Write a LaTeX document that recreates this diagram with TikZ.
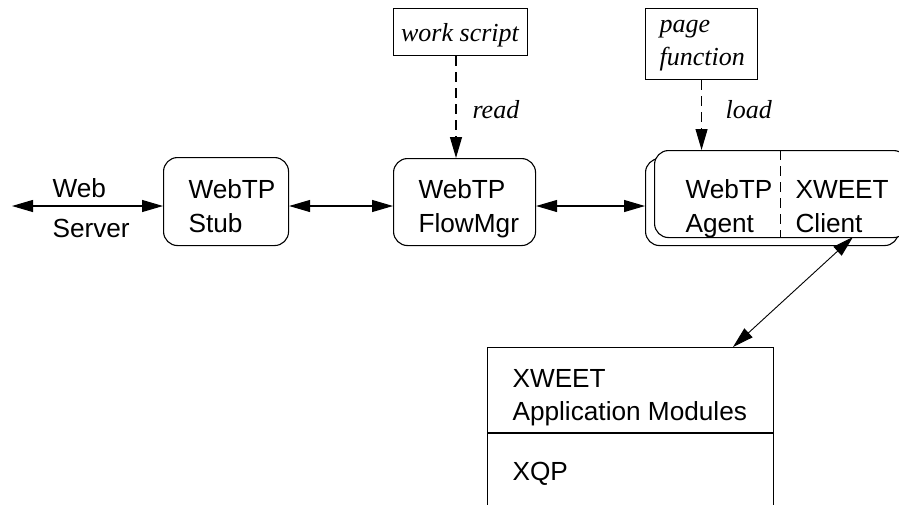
\documentclass[tikz,border=0pt]{standalone}
\usepackage{fontspec}
\setmainfont{Liberation Sans}
\newfontfamily\serifit{Liberation Serif}[ItalicFont=* Italic]
\usetikzlibrary{arrows.meta}
\begin{document}
\begin{tikzpicture}[x=1pt,y=-1pt,line width=1.1pt,
  tri/.tip={Triangle[length=21pt,width=12pt]},
  rbox/.style={draw,rounded corners=14pt,inner sep=0pt,anchor=north west,fill=white},
  sbox/.style={draw,inner sep=0pt,anchor=north west},
  txt/.style={anchor=base west,inner sep=0pt,font=\fontsize{26.2}{30}\selectfont},
  itxt/.style={inner sep=0pt,font=\serifit\itshape\fontsize{26}{33}\selectfont},
  dashline/.style={dash pattern=on 10pt off 6pt},
  dbl/.style={tri-tri}]
\useasboundingbox (0,0) rectangle (899,504);
\clip (0,0) rectangle (899,504);

% boxes
\node[rbox,minimum width=125pt,minimum height=88pt] (stub) at (163,157) {};
\node[rbox,minimum width=142pt,minimum height=87pt] (flow) at (393,158) {};
\node[rbox,minimum width=253pt,minimum height=87pt] (back) at (645,158) {};
\node[rbox,minimum width=253pt,minimum height=87pt] (agent) at (654,150) {};
\node[sbox,minimum width=134pt,minimum height=47pt] (work) at (393,8) {};
\node[sbox,minimum width=112pt,minimum height=71pt] (page) at (645,8) {};
\node[sbox,minimum width=286pt,minimum height=175pt] (mods) at (487,347) {};

% texts
\node[txt] (webl) at (52,197) {Web};
\node[txt] (serverl) at (52,237) {Server};
\node[txt] (stub1) at (188,198) {WebTP};
\node[txt] (stub2) at (188,232) {Stub};
\node[txt] (flow1) at (418,198) {WebTP};
\node[txt] (flow2) at (418,232) {FlowMgr};
\node[txt] (ag1) at (685,198) {WebTP};
\node[txt] (ag2) at (685,232) {Agent};
\node[txt] (cl1) at (795,198) {XWEET};
\node[txt] (cl2) at (795,232) {Client};
\node[txt] (m1) at (512,387) {XWEET};
\node[txt] (m2) at (512,420) {Application Modules};
\node[txt] (m3) at (512,480) {XQP};
\node[itxt,anchor=base] (worktxt) at (460,41) {work script};
\node[itxt,anchor=base west] (pg1) at (659,32) {page};
\node[itxt,anchor=base west] (pg2) at (659,65) {function};
\node[itxt,anchor=base west] (readl) at (472,118) {read};
\node[itxt,anchor=base west] (loadl) at (725,118) {load};

% dividers
\draw[dashline,line width=0.9pt] (780,0 |- agent.north) -- (780,0 |- agent.south);
\draw (mods.west |- 0,433) -- (mods.east |- 0,433);

% connectors
\coordinate (ws) at (12,206);
\draw[dbl] (ws) -- (stub.west |- ws);
\draw[dbl] (stub.east |- ws) -- (flow.west |- ws);
\draw[dbl] (flow.east |- ws) -- (back.west |- ws);
\coordinate (rx) at (456,0);
\draw[dashline,-tri] (rx |- work.south) -- (rx |- flow.north);
\draw[dashline,-tri] (page.south) -- (page.south |- agent.north);
\coordinate (dtop) at (853,237);
\coordinate (dbot) at (733,347);
\draw[dbl,line width=0.9pt] (dtop) -- (dbot);
\end{tikzpicture}
\end{document}
